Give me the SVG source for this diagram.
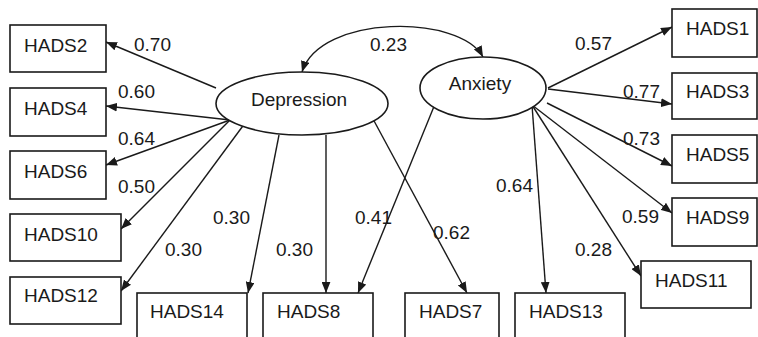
<svg xmlns="http://www.w3.org/2000/svg" width="758" height="337" viewBox="0 0 758 337">
<style>
.box{fill:#fff;stroke:#1a1a1a;stroke-width:1.6}
.lat{fill:#fff;stroke:#1a1a1a;stroke-width:1.6}
.t{font-family:"Liberation Sans",Arial,sans-serif;font-size:19px;fill:#1a1a1a}
.c{stroke:#1a1a1a;stroke-width:1.4;fill:none;marker-end:url(#ah)}
</style>
<defs>
<marker id="ah" viewBox="0 0 10 8" refX="10" refY="4" markerWidth="11" markerHeight="9" markerUnits="userSpaceOnUse" orient="auto-start-reverse">
<path d="M0,0 L10,4 L0,8 z" fill="#1a1a1a"/>
</marker>
</defs>
<rect width="758" height="337" fill="#fff"/>
<g id="connectors">
<path class="c" d="M302,72 C320,14 460,14 483,57" marker-start="url(#ah)"/>
<line class="c" x1="216" y1="88" x2="106" y2="42"/>
<line class="c" x1="230" y1="120" x2="106" y2="106"/>
<line class="c" x1="230" y1="120" x2="106" y2="165"/>
<line class="c" x1="230" y1="120" x2="121" y2="229"/>
<line class="c" x1="248" y1="119" x2="121" y2="291"/>
<line class="c" x1="279" y1="135" x2="248" y2="293"/>
<line class="c" x1="326" y1="135" x2="326" y2="293"/>
<line class="c" x1="373" y1="119" x2="467" y2="293"/>
<line class="c" x1="435" y1="104" x2="358" y2="293"/>
<line class="c" x1="548" y1="88" x2="672" y2="27"/>
<line class="c" x1="548" y1="89" x2="672" y2="104"/>
<line class="c" x1="547" y1="103" x2="672" y2="166"/>
<line class="c" x1="532" y1="105" x2="672" y2="213"/>
<line class="c" x1="532" y1="105" x2="641" y2="276"/>
<line class="c" x1="532" y1="105" x2="546" y2="293"/>
</g>
<g id="labels">
<text class="t" x="134" y="51">0.70</text>
<text class="t" x="118" y="98">0.60</text>
<text class="t" x="118" y="145">0.64</text>
<text class="t" x="118" y="193">0.50</text>
<text class="t" x="165" y="256">0.30</text>
<text class="t" x="213" y="224">0.30</text>
<text class="t" x="276" y="256">0.30</text>
<text class="t" x="355" y="224">0.41</text>
<text class="t" x="433" y="239">0.62</text>
<text class="t" x="496" y="192">0.64</text>
<text class="t" x="575" y="256">0.28</text>
<text class="t" x="622" y="223">0.59</text>
<text class="t" x="623" y="145">0.73</text>
<text class="t" x="623" y="98">0.77</text>
<text class="t" x="575" y="50">0.57</text>
<text class="t" x="370" y="51">0.23</text>
</g>
<g id="Depression">
<ellipse class="lat" cx="302" cy="103.5" rx="86" ry="31.5"/>
<text class="t" x="299" y="106" text-anchor="middle">Depression</text>
</g>
<g id="Anxiety">
<ellipse class="lat" cx="483" cy="88" rx="63" ry="31"/>
<text class="t" x="480" y="90" text-anchor="middle">Anxiety</text>
</g>
<g id="HADS2"><rect class="box" x="10" y="25" width="96" height="47"/><text class="t" x="24" y="52">HADS2</text></g>
<g id="HADS4"><rect class="box" x="10" y="88" width="96" height="48"/><text class="t" x="24" y="115">HADS4</text></g>
<g id="HADS6"><rect class="box" x="10" y="151" width="96" height="48"/><text class="t" x="24" y="178">HADS6</text></g>
<g id="HADS10"><rect class="box" x="10" y="214" width="111" height="47"/><text class="t" x="24" y="241">HADS10</text></g>
<g id="HADS12"><rect class="box" x="10" y="277" width="111" height="47"/><text class="t" x="24" y="302">HADS12</text></g>
<g id="HADS14"><rect class="box" x="137" y="293" width="110" height="60"/><text class="t" x="150" y="318">HADS14</text></g>
<g id="HADS8"><rect class="box" x="263" y="293" width="110" height="60"/><text class="t" x="277" y="318">HADS8</text></g>
<g id="HADS7"><rect class="box" x="405" y="293" width="94" height="60"/><text class="t" x="419" y="318">HADS7</text></g>
<g id="HADS13"><rect class="box" x="515" y="293" width="110" height="60"/><text class="t" x="529" y="318">HADS13</text></g>
<g id="HADS11"><rect class="box" x="641" y="261" width="110" height="47"/><text class="t" x="655" y="287">HADS11</text></g>
<g id="HADS1"><rect class="box" x="672" y="9" width="85" height="48"/><text class="t" x="686" y="35">HADS1</text></g>
<g id="HADS3"><rect class="box" x="672" y="73" width="85" height="46"/><text class="t" x="686" y="98">HADS3</text></g>
<g id="HADS5"><rect class="box" x="672" y="135" width="85" height="48"/><text class="t" x="686" y="161">HADS5</text></g>
<g id="HADS9"><rect class="box" x="672" y="198" width="85" height="48"/><text class="t" x="686" y="224">HADS9</text></g>
</svg>
